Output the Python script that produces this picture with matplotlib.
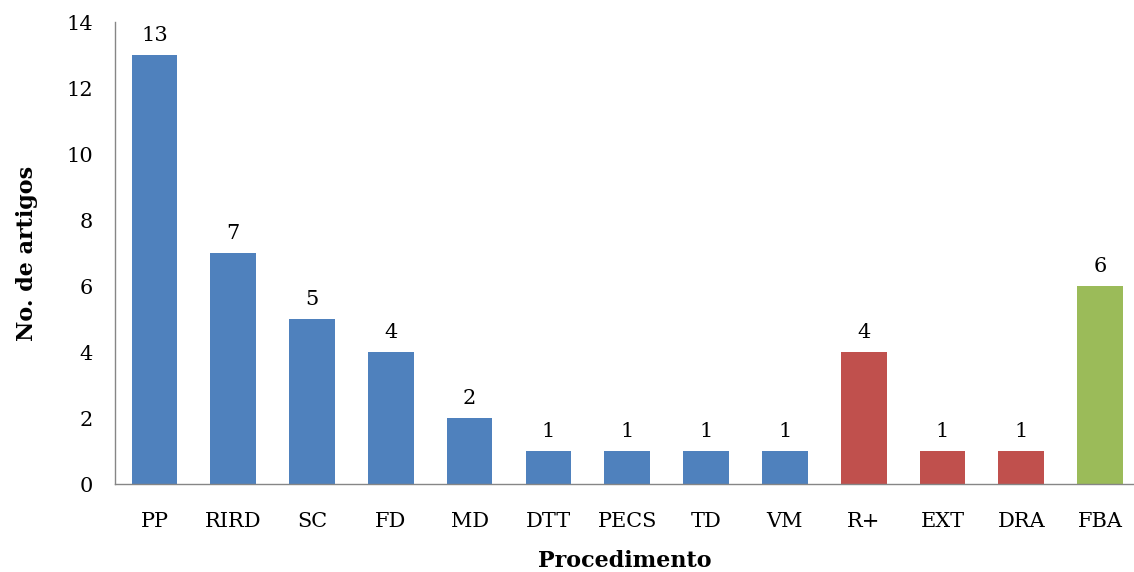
import matplotlib.pyplot as plt
import numpy as np

# number of articles per procedure
procedures = ['PP', 'RIRD', 'SC', 'FD', 'MD', 'DTT', 'PECS', 'TD', 'VM',
              'R+', 'EXT', 'DRA', 'FBA']
counts = [13, 7, 5, 4, 2, 1, 1, 1, 1, 4, 1, 1, 6]
groups = ['a'] * 9 + ['b'] * 3 + ['c']

COLORS = {'a': '#4F81BD', 'b': '#C0504D', 'c': '#9BBB59'}

plt.rcParams['font.family'] = ['DejaVu Serif']

fig = plt.figure(figsize=(11.34, 5.72), dpi=100)
ax = fig.add_axes([0.1014, 0.1538, 0.9, 0.8077])

x = np.arange(len(procedures))
bars = ax.bar(x, counts, width=0.58, color=[COLORS[g] for g in groups])
for b, v in zip(bars, counts):
    ax.text(b.get_x() + b.get_width() / 2, v + 0.3, str(v),
            ha='center', va='bottom', fontsize=15)

ax.set_ylim(0, 14)
ax.set_yticks(range(0, 15, 2))
ax.set_xlim(-0.5, len(procedures) - 0.55)
ax.set_xticks(x)
ax.set_xticklabels(procedures)
ax.tick_params(axis='both', length=0, labelsize=15)
ax.tick_params(axis='x', pad=20)
ax.tick_params(axis='y', pad=16)

ax.set_xlabel('Procedimento', fontsize=16, fontweight='bold', labelpad=14)
ax.set_ylabel('No. de artigos', fontsize=16, fontweight='bold', labelpad=20)

for s in ['top', 'right']:
    ax.spines[s].set_visible(False)
for s in ['left', 'bottom']:
    ax.spines[s].set_color('#868686')
    ax.spines[s].set_linewidth(1)

fig.savefig('out.png', dpi=100)
